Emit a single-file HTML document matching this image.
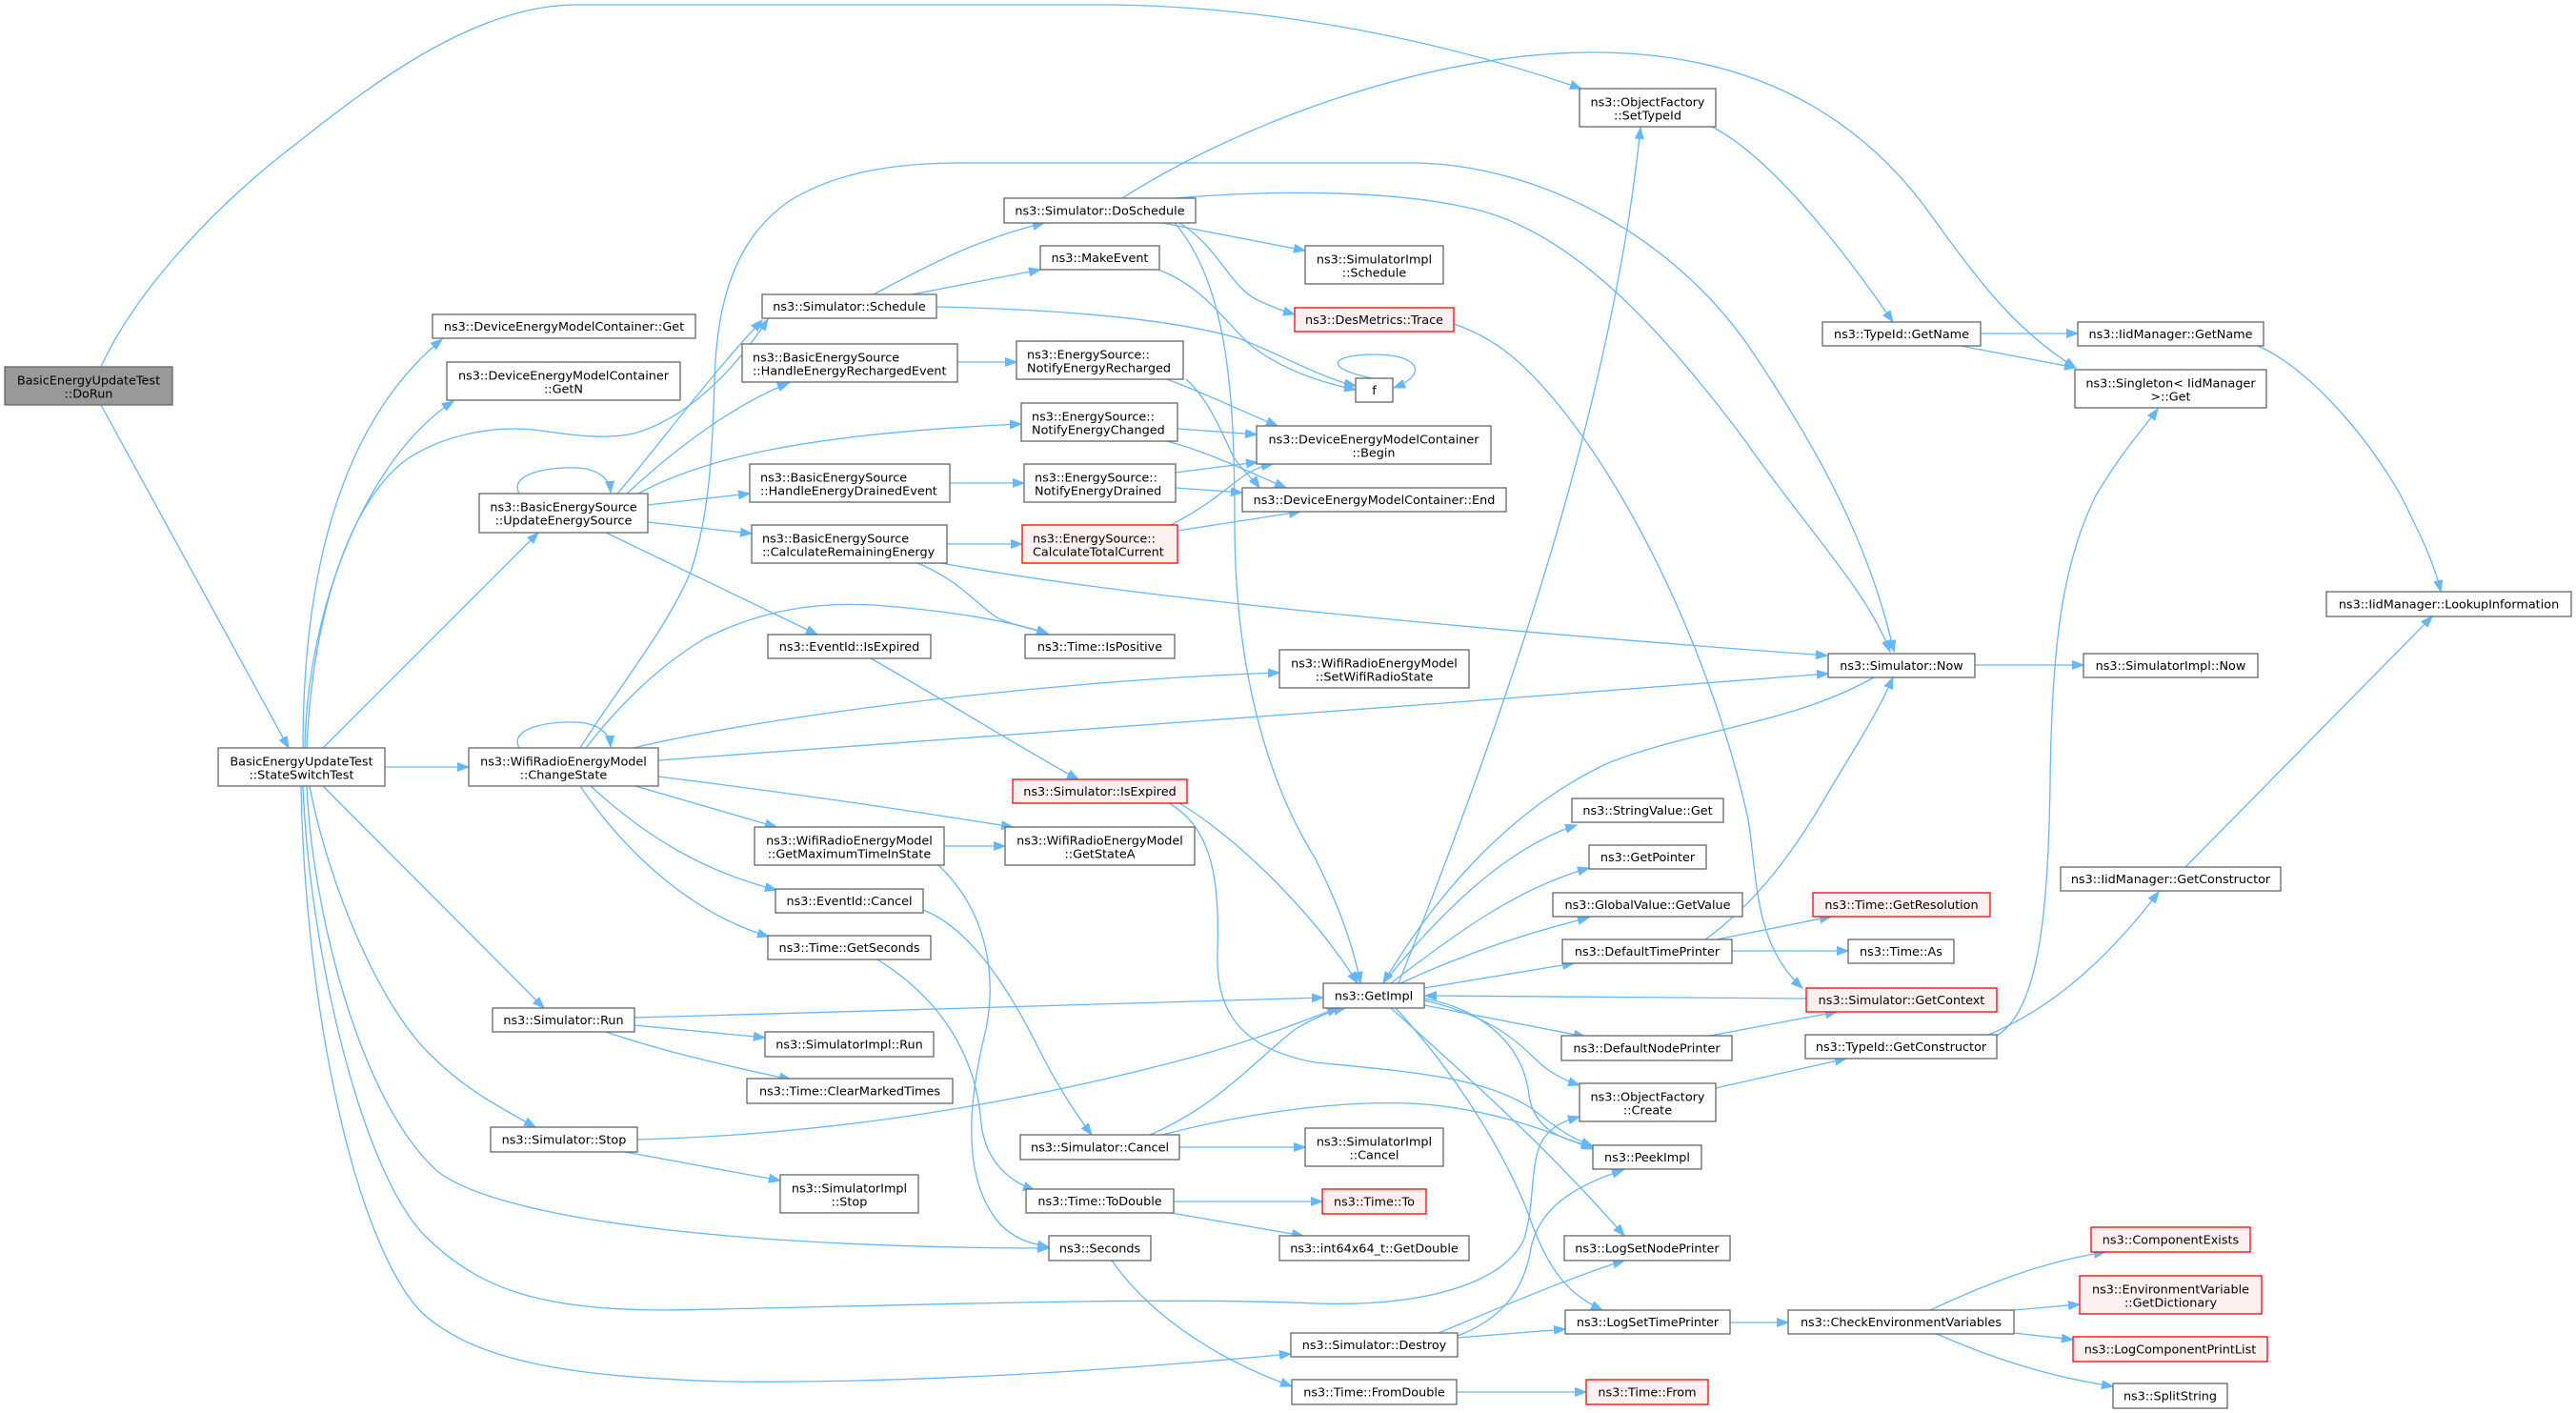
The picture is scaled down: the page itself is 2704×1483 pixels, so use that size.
<!DOCTYPE html>
<html><head><meta charset="utf-8">
<style>
html,body{margin:0;padding:0;background:#fff;width:2704px;height:1483px;overflow:hidden}
svg{display:block}
text{font-family:"DejaVu Sans","Liberation Sans",sans-serif;font-size:12.8px;fill:#000}
.c{text-anchor:middle}
.n{fill:#fff;stroke:#666;stroke-width:1.3}
.r{fill:#fff0f0;stroke:#f00;stroke-width:1.3}
.g{fill:#999;stroke:#666;stroke-width:1.3}
.e{fill:none;stroke:#63b8ff;stroke-width:1.3}
</style></head>
<body>
<svg width="2704" height="1483" viewBox="0 0 2704 1483" xmlns="http://www.w3.org/2000/svg">
<defs>
<marker id="a" markerUnits="userSpaceOnUse" markerWidth="14" markerHeight="11" refX="12" refY="5" orient="auto">
<path d="M0,0.5 L12,5 L0,9.5 z" fill="#63b8ff" stroke="#63b8ff" stroke-width="1"/>
</marker>
</defs>
<g class="e" marker-end="url(#a)">
<path d="M106,385 C140,310 220,220 312,150 C400,80 500,8 600,5 L1170,5 C1350,8 1520,45 1660,93"/>
<path d="M106,425 L303,785"/>
<path d="M318,785 C318,620 350,450 464,356"/>
<path d="M320,785 C322,640 385,480 476,421"/>
<path d="M322,785 C328,640 370,520 430,480 C470,455 520,447 560,451 C600,456 630,462 665,455 C720,440 770,390 806,335"/>
<path d="M339,785 L565,559"/>
<path d="M404,805 L492,805"/>
<path d="M339,825 L571,1058"/>
<path d="M325,825 C345,930 400,1060 455,1110 C490,1145 530,1165 562,1183"/>
<path d="M322,825 C328,960 380,1160 460,1230 C540,1290 850,1310 1101,1310"/>
<path d="M318,825 C325,1000 380,1230 446,1297 C500,1350 560,1375 700,1375 C900,1372 1200,1360 1380,1368 C1500,1372 1580,1345 1600,1300 C1612,1260 1605,1220 1620,1195 C1630,1182 1640,1177 1658,1172"/>
<path d="M316,825 C320,1050 370,1300 442,1377 C500,1430 600,1445 760,1450 C950,1452 1150,1440 1355,1421"/>
<path d="M545,518 C532,494 590,488 615,492 C632,496 640,504 641,517"/>
<path d="M648,518 C690,470 740,400 800,336"/>
<path d="M658,518 C710,470 770,425 828,402"/>
<path d="M670,518 C740,480 850,455 1072,445"/>
<path d="M680,530 L787,518"/>
<path d="M680,548 L789,560"/>
<path d="M636,559 L858,666"/>
<path d="M545,785 C532,761 590,755 615,759 C632,763 640,771 641,784"/>
<path d="M609,785 C650,720 700,660 725,600 C745,540 748,470 750,400 C752,320 770,250 830,210 C880,180 940,171 1010,171 L1490,171 C1620,175 1760,250 1840,370 C1900,460 1960,560 1988,684"/>
<path d="M615,785 C650,740 690,700 740,670 C800,640 860,630 930,636 C1000,642 1060,652 1100,665"/>
<path d="M665,785 C800,752 1100,714 1343,706"/>
<path d="M691,798 C1000,776 1500,740 1919,707"/>
<path d="M691,815 C850,835 950,850 1063,868"/>
<path d="M667,825 L815,868"/>
<path d="M620,825 C680,880 740,915 815,934"/>
<path d="M609,825 C660,900 730,960 807,983"/>
<path d="M917,309 C980,275 1030,250 1096,234"/>
<path d="M957,309 L1092,283"/>
<path d="M983,322 C1120,325 1230,335 1300,355 C1340,370 1390,398 1423,405"/>
<path d="M1216,283 C1260,300 1280,330 1310,360 C1340,385 1380,400 1423,409"/>
<path d="M1440,397 C1385,385 1400,372 1443,372 C1490,372 1500,393 1463,407"/>
<path d="M1220,234 L1370,263"/>
<path d="M1238,234 C1280,260 1290,300 1320,315 C1335,322 1345,326 1359,330"/>
<path d="M1233,234 C1290,300 1296,420 1296,550 C1296,700 1330,820 1380,900 C1405,950 1420,990 1428,1032"/>
<path d="M1178,208 C1300,130 1500,55 1672,55 C1850,55 1960,130 2030,230 C2080,300 2120,350 2179,386"/>
<path d="M1233,208 C1330,200 1460,198 1550,220 C1650,245 1740,340 1830,460 C1900,560 1960,620 1984,684"/>
<path d="M1526,340 C1570,355 1600,380 1640,430 C1720,530 1800,700 1835,860 C1845,920 1840,990 1892,1037"/>
<path d="M1797,133 C1850,160 1920,240 1987,338"/>
<path d="M2079,350 L2181,350"/>
<path d="M2058,363 L2179,386"/>
<path d="M2370,363 C2420,385 2480,450 2520,520 C2540,560 2555,590 2562,621"/>
<path d="M2294,910 L2553,647"/>
<path d="M2087,1086 C2150,1060 2210,1010 2266,936"/>
<path d="M2096,1087 C2140,1060 2150,960 2152,820 C2154,700 2160,600 2200,520 C2230,470 2250,450 2265,429"/>
<path d="M2073,698 L2187,698"/>
<path d="M1468,1032 C1560,800 1690,450 1722,134"/>
<path d="M1967,711 C1880,760 1780,765 1690,800 C1580,850 1500,950 1452,1032"/>
<path d="M1452,1032 C1510,960 1580,890 1655,866"/>
<path d="M1460,1032 C1540,970 1600,930 1668,911"/>
<path d="M1470,1032 C1540,1000 1600,980 1668,963"/>
<path d="M1495,1037 L1652,1011"/>
<path d="M1896,1048 L1496,1045"/>
<path d="M1495,1055 L1664,1088"/>
<path d="M1495,1050 C1560,1065 1590,1090 1610,1110 C1625,1125 1640,1133 1658,1139"/>
<path d="M1495,1048 C1560,1060 1600,1100 1605,1150 C1610,1180 1630,1195 1672,1203"/>
<path d="M1460,1058 C1540,1130 1620,1200 1705,1297"/>
<path d="M1465,1058 C1540,1140 1590,1230 1610,1290 C1630,1340 1650,1360 1682,1375"/>
<path d="M666,1068 C900,1062 1200,1052 1389,1047"/>
<path d="M669,1196 C900,1190 1100,1150 1250,1110 C1330,1088 1370,1070 1405,1058"/>
<path d="M1207,1191 C1280,1160 1320,1110 1360,1080 C1380,1068 1395,1062 1412,1058"/>
<path d="M1238,843 C1300,880 1380,960 1425,1032"/>
<path d="M1227,843 C1275,870 1280,930 1278,1000 C1276,1060 1300,1100 1380,1115 C1480,1125 1560,1130 1610,1165 C1635,1185 1650,1195 1672,1203"/>
<path d="M1220,1191 C1300,1170 1400,1155 1480,1158 C1560,1162 1620,1185 1672,1206"/>
<path d="M1801,1142 L1938,1111"/>
<path d="M1795,1087 L1928,1062"/>
<path d="M1802,986 L1922,962"/>
<path d="M1818,998 L1940,998"/>
<path d="M1790,986 C1840,950 1880,900 1920,830 C1950,780 1970,750 1987,711"/>
<path d="M1816,1388 L1877,1388"/>
<path d="M2026,1375 C2080,1350 2140,1325 2210,1314"/>
<path d="M2114,1375 L2183,1369"/>
<path d="M2114,1399 L2176,1406"/>
<path d="M2033,1400 C2090,1425 2150,1445 2218,1455"/>
<path d="M1510,1399 C1580,1370 1650,1340 1705,1323"/>
<path d="M1530,1404 L1643,1395"/>
<path d="M1530,1402 C1575,1385 1600,1355 1607,1310 C1615,1270 1650,1245 1704,1228"/>
<path d="M1529,1461 L1665,1461"/>
<path d="M1167,1323 C1200,1370 1260,1420 1356,1455"/>
<path d="M921,1007 C990,1050 1025,1110 1030,1180 C1035,1220 1060,1240 1086,1249"/>
<path d="M985,908 C1040,960 1045,1030 1035,1080 C1015,1160 1010,1240 1050,1285 C1065,1300 1080,1305 1101,1309"/>
<path d="M969,955 C1020,975 1060,1040 1090,1100 C1110,1140 1130,1170 1146,1191"/>
<path d="M914,691 C1000,740 1080,790 1132,818"/>
<path d="M991,888 L1055,888"/>
<path d="M1238,1204 L1370,1204"/>
<path d="M1232,1261 L1388,1261"/>
<path d="M1229,1273 L1368,1297"/>
<path d="M656,1209 L819,1239"/>
<path d="M666,1076 L803,1089"/>
<path d="M636,1083 C700,1105 770,1120 830,1133"/>
<path d="M1005,380 L1067,380"/>
<path d="M997,507 L1075,507"/>
<path d="M994,571 L1073,571"/>
<path d="M963,591 C1010,610 1030,640 1050,650 C1070,658 1085,660 1100,665"/>
<path d="M988,591 C1200,630 1600,665 1918,688"/>
<path d="M1225,398 C1270,415 1300,430 1341,447"/>
<path d="M1245,398 C1270,420 1285,460 1295,480 C1305,495 1315,502 1322,512"/>
<path d="M1236,450 L1319,456"/>
<path d="M1225,463 C1270,475 1310,495 1350,512"/>
<path d="M1234,496 L1320,485"/>
<path d="M1234,512 L1304,517"/>
<path d="M1229,551 C1270,530 1290,510 1305,500 C1315,493 1325,489 1336,487"/>
<path d="M1236,557 L1365,537"/>
</g>

<!-- nodes -->
<rect class="g" x="5" y="385" width="176" height="40"/><text class="c" x="93" y="403.5">BasicEnergyUpdateTest</text><text class="c" x="93" y="417.5">::DoRun</text>
<rect class="n" x="229" y="785" width="175" height="40"/><text class="c" x="316.5" y="803.5">BasicEnergyUpdateTest</text><text class="c" x="316.5" y="817.5">::StateSwitchTest</text>
<rect class="n" x="454" y="330" width="276" height="25"/><text class="c" x="592" y="347">ns3::DeviceEnergyModelContainer::Get</text>
<rect class="n" x="469" y="380" width="245" height="40"/><text class="c" x="591.5" y="398.5">ns3::DeviceEnergyModelContainer</text><text class="c" x="591.5" y="412.5">::GetN</text>
<rect class="n" x="503" y="518" width="177" height="41"/><text class="c" x="591.5" y="536.5">ns3::BasicEnergySource</text><text class="c" x="591.5" y="550.5">::UpdateEnergySource</text>
<rect class="n" x="492" y="785" width="199" height="40"/><text class="c" x="591.5" y="803.5">ns3::WifiRadioEnergyModel</text><text class="c" x="591.5" y="817.5">::ChangeState</text>
<rect class="n" x="517" y="1058" width="149" height="25"/><text class="c" x="591.5" y="1075">ns3::Simulator::Run</text>
<rect class="n" x="515" y="1183" width="154" height="26"/><text class="c" x="592" y="1200.5">ns3::Simulator::Stop</text>
<rect class="n" x="800" y="309" width="183" height="25"/><text class="c" x="891.5" y="326">ns3::Simulator::Schedule</text>
<rect class="n" x="779" y="361" width="226" height="40"/><text x="790" y="379.5">ns3::BasicEnergySource</text><text x="790" y="393.5">::HandleEnergyRechargedEvent</text>
<rect class="n" x="787" y="487" width="210" height="40"/><text x="798" y="505.5">ns3::BasicEnergySource</text><text x="798" y="519.5">::HandleEnergyDrainedEvent</text>
<rect class="n" x="789" y="551" width="205" height="40"/><text x="800" y="569.5">ns3::BasicEnergySource</text><text x="800" y="583.5">::CalculateRemainingEnergy</text>
<rect class="n" x="806" y="666" width="171" height="25"/><text class="c" x="891.5" y="683">ns3::EventId::IsExpired</text>
<rect class="n" x="792" y="868" width="199" height="40"/><text class="c" x="891.5" y="886.5">ns3::WifiRadioEnergyModel</text><text class="c" x="891.5" y="900.5">::GetMaximumTimeInState</text>
<rect class="n" x="814" y="933" width="155" height="25"/><text class="c" x="891.5" y="950">ns3::EventId::Cancel</text>
<rect class="n" x="806" y="982" width="171" height="25"/><text class="c" x="891.5" y="999">ns3::Time::GetSeconds</text>
<rect class="n" x="803" y="1083" width="177" height="26"/><text class="c" x="891.5" y="1100.5">ns3::SimulatorImpl::Run</text>
<rect class="n" x="784" y="1132" width="216" height="26"/><text class="c" x="892" y="1149.5">ns3::Time::ClearMarkedTimes</text>
<rect class="n" x="819" y="1233" width="145" height="40"/><text class="c" x="891.5" y="1251.5">ns3::SimulatorImpl</text><text class="c" x="891.5" y="1265.5">::Stop</text>
<rect class="n" x="1054" y="208" width="201" height="26"/><text class="c" x="1154.5" y="225.5">ns3::Simulator::DoSchedule</text>
<rect class="n" x="1092" y="258" width="125" height="25"/><text class="c" x="1154.5" y="275">ns3::MakeEvent</text>
<rect class="n" x="1067" y="358" width="175" height="40"/><text x="1078" y="376.5">ns3::EnergySource::</text><text x="1078" y="390.5">NotifyEnergyRecharged</text>
<rect class="n" x="1072" y="423" width="164" height="40"/><text x="1083" y="441.5">ns3::EnergySource::</text><text x="1083" y="455.5">NotifyEnergyChanged</text>
<rect class="n" x="1075" y="487" width="159" height="40"/><text x="1086" y="505.5">ns3::EnergySource::</text><text x="1086" y="519.5">NotifyEnergyDrained</text>
<rect class="r" x="1073" y="551" width="163" height="40"/><text x="1084" y="569.5">ns3::EnergySource::</text><text x="1084" y="583.5">CalculateTotalCurrent</text>
<rect class="n" x="1076" y="666" width="157" height="25"/><text class="c" x="1154.5" y="683">ns3::Time::IsPositive</text>
<rect class="r" x="1063" y="818" width="183" height="25"/><text class="c" x="1154.5" y="835">ns3::Simulator::IsExpired</text>
<rect class="n" x="1055" y="868" width="199" height="40"/><text class="c" x="1154.5" y="886.5">ns3::WifiRadioEnergyModel</text><text class="c" x="1154.5" y="900.5">::GetStateA</text>
<rect class="n" x="1071" y="1191" width="167" height="26"/><text class="c" x="1154.5" y="1208.5">ns3::Simulator::Cancel</text>
<rect class="n" x="1077" y="1248" width="155" height="25"/><text class="c" x="1154.5" y="1265">ns3::Time::ToDouble</text>
<rect class="n" x="1101" y="1297" width="107" height="26"/><text class="c" x="1154.5" y="1314.5">ns3::Seconds</text>
<rect class="n" x="1370" y="258" width="145" height="40"/><text class="c" x="1442.5" y="276.5">ns3::SimulatorImpl</text><text class="c" x="1442.5" y="290.5">::Schedule</text>
<rect class="r" x="1359" y="323" width="167" height="25"/><text class="c" x="1442.5" y="340">ns3::DesMetrics::Trace</text>
<rect class="n" x="1423" y="397" width="39" height="25"/><text class="c" x="1442.5" y="414">f</text>
<rect class="n" x="1319" y="447" width="246" height="40"/><text class="c" x="1442" y="465.5">ns3::DeviceEnergyModelContainer</text><text class="c" x="1442" y="479.5">::Begin</text>
<rect class="n" x="1304" y="512" width="277" height="25"/><text class="c" x="1442.5" y="529">ns3::DeviceEnergyModelContainer::End</text>
<rect class="n" x="1343" y="682" width="199" height="40"/><text class="c" x="1442.5" y="700.5">ns3::WifiRadioEnergyModel</text><text class="c" x="1442.5" y="714.5">::SetWifiRadioState</text>
<rect class="n" x="1389" y="1032" width="106" height="26"/><text class="c" x="1442" y="1049.5">ns3::GetImpl</text>
<rect class="n" x="1370" y="1184" width="145" height="40"/><text class="c" x="1442.5" y="1202.5">ns3::SimulatorImpl</text><text class="c" x="1442.5" y="1216.5">::Cancel</text>
<rect class="r" x="1388" y="1248" width="109" height="26"/><text class="c" x="1442.5" y="1265.5">ns3::Time::To</text>
<rect class="n" x="1343" y="1297" width="199" height="26"/><text class="c" x="1442.5" y="1314.5">ns3::int64x64_t::GetDouble</text>
<rect class="n" x="1355" y="1399" width="175" height="25"/><text class="c" x="1442.5" y="1416">ns3::Simulator::Destroy</text>
<rect class="n" x="1356" y="1448" width="173" height="26"/><text class="c" x="1442.5" y="1465.5">ns3::Time::FromDouble</text>
<rect class="n" x="1658" y="93" width="143" height="40"/><text class="c" x="1729.5" y="111.5">ns3::ObjectFactory</text><text class="c" x="1729.5" y="125.5">::SetTypeId</text>
<rect class="n" x="1650" y="838" width="159" height="25"/><text class="c" x="1729.5" y="855">ns3::StringValue::Get</text>
<rect class="n" x="1668" y="887" width="123" height="25"/><text class="c" x="1729.5" y="904">ns3::GetPointer</text>
<rect class="n" x="1630" y="937" width="199" height="25"/><text class="c" x="1729.5" y="954">ns3::GlobalValue::GetValue</text>
<rect class="n" x="1640" y="986" width="178" height="25"/><text class="c" x="1729" y="1003">ns3::DefaultTimePrinter</text>
<rect class="n" x="1639" y="1087" width="179" height="26"/><text class="c" x="1728.5" y="1104.5">ns3::DefaultNodePrinter</text>
<rect class="n" x="1658" y="1137" width="143" height="40"/><text class="c" x="1729.5" y="1155.5">ns3::ObjectFactory</text><text class="c" x="1729.5" y="1169.5">::Create</text>
<rect class="n" x="1672" y="1202" width="114" height="25"/><text class="c" x="1729" y="1219">ns3::PeekImpl</text>
<rect class="n" x="1642" y="1297" width="174" height="26"/><text class="c" x="1729" y="1314.5">ns3::LogSetNodePrinter</text>
<rect class="n" x="1643" y="1375" width="173" height="25"/><text class="c" x="1729.5" y="1392">ns3::LogSetTimePrinter</text>
<rect class="r" x="1665" y="1448" width="128" height="26"/><text class="c" x="1729" y="1465.5">ns3::Time::From</text>
<rect class="n" x="1913" y="338" width="166" height="25"/><text class="c" x="1996" y="355">ns3::TypeId::GetName</text>
<rect class="n" x="1919" y="686" width="154" height="25"/><text class="c" x="1996" y="703">ns3::Simulator::Now</text>
<rect class="r" x="1903" y="937" width="186" height="25"/><text class="c" x="1996" y="954">ns3::Time::GetResolution</text>
<rect class="n" x="1940" y="986" width="111" height="25"/><text class="c" x="1995.5" y="1003">ns3::Time::As</text>
<rect class="r" x="1896" y="1037" width="200" height="25"/><text class="c" x="1996" y="1054">ns3::Simulator::GetContext</text>
<rect class="n" x="1895" y="1086" width="201" height="25"/><text class="c" x="1995.5" y="1103">ns3::TypeId::GetConstructor</text>
<rect class="n" x="1877" y="1375" width="237" height="25"/><text class="c" x="1995.5" y="1392">ns3::CheckEnvironmentVariables</text>
<rect class="n" x="2181" y="338" width="195" height="25"/><text class="c" x="2278.5" y="355">ns3::IidManager::GetName</text>
<rect class="n" x="2178" y="388" width="201" height="40"/><text class="c" x="2278.5" y="406.5">ns3::Singleton&lt; IidManager</text><text class="c" x="2278.5" y="420.5">&gt;::Get</text>
<rect class="n" x="2187" y="686" width="183" height="25"/><text class="c" x="2278.5" y="703">ns3::SimulatorImpl::Now</text>
<rect class="n" x="2163" y="910" width="231" height="25"/><text class="c" x="2278.5" y="927">ns3::IidManager::GetConstructor</text>
<rect class="r" x="2195" y="1288" width="167" height="26"/><text class="c" x="2278.5" y="1305.5">ns3::ComponentExists</text>
<rect class="r" x="2183" y="1339" width="191" height="40"/><text class="c" x="2278.5" y="1357.5">ns3::EnvironmentVariable</text><text class="c" x="2278.5" y="1371.5">::GetDictionary</text>
<rect class="r" x="2176" y="1403" width="204" height="26"/><text class="c" x="2278" y="1420.5">ns3::LogComponentPrintList</text>
<rect class="n" x="2218" y="1452" width="120" height="26"/><text class="c" x="2278" y="1469.5">ns3::SplitString</text>
<rect class="n" x="2442" y="621" width="257" height="26"/><text class="c" x="2570.5" y="638.5">ns3::IidManager::LookupInformation</text>
</svg>
</body></html>
